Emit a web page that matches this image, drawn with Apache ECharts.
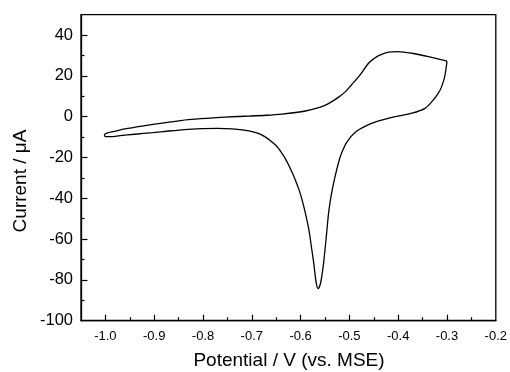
<!DOCTYPE html>
<html>
<head>
<meta charset="utf-8">
<script src="https://cdn.jsdelivr.net/npm/echarts@6/dist/echarts.min.js"></script>
<style>html,body{margin:0;padding:0;background:#fff}#c{width:510px;height:372px}</style>
</head>
<body>
<div id="c"></div>
<script>
var potential = [-0.300,-0.301,-0.303,-0.3055,-0.314,-0.328,-0.345,-0.372,-0.406,-0.440,-0.466,-0.488,-0.505,-0.5153,-0.5205,-0.5255,-0.530,-0.5345,-0.539,-0.543,-0.546,-0.553,-0.559,-0.564,-0.568,-0.573,-0.578,-0.583,-0.590,-0.597,-0.603,-0.610,-0.618,-0.628,-0.638,-0.6513,-0.679,-0.706,-0.740,-0.770,-0.800,-0.830,-0.870,-0.903,-0.940,-0.970,-0.990,-1.000,-1.002,-0.997,-0.982,-0.960,-0.925,-0.880,-0.830,-0.780,-0.730,-0.706,-0.670,-0.638,-0.590,-0.563,-0.549,-0.536,-0.522,-0.508,-0.495,-0.481,-0.4608,-0.450,-0.440,-0.420,-0.400,-0.372,-0.338,-0.300];
var current = [27.2,25.3,22.0,18.8,13.1,8.2,4.1,1.7,0.0,-2.1,-4.5,-7.6,-12.3,-17.4,-21.0,-25.5,-30.0,-35.0,-41.0,-48.0,-55.5,-71.9,-81.5,-84.3,-81.5,-71.9,-63.5,-55.5,-47.5,-40.8,-36.0,-31.5,-27.0,-22.0,-18.0,-13.9,-9.0,-7.0,-6.0,-5.7,-5.8,-6.2,-7.0,-7.8,-8.6,-9.3,-9.8,-9.8,-9.0,-8.0,-7.2,-6.0,-4.6,-3.0,-1.4,-0.6,0.1,0.3,0.7,1.3,2.8,4.4,5.7,7.4,9.6,12.3,15.8,19.6,26.2,28.4,29.9,31.6,31.9,31.1,29.4,27.2];
var xTicks = [-1.0,-0.9,-0.8,-0.7,-0.6,-0.5,-0.4,-0.3,-0.2];
var xMinorTicks = [-0.95,-0.85,-0.75,-0.65,-0.55,-0.45,-0.35,-0.25];
var yTicks = [-100,-80,-60,-40,-20,0,20,40];
var yMinorTicks = [-90,-70,-50,-30,-10,10,30];
var xTitle = 'Potential / V (vs. MSE)';
var yTitle = 'Current / \u03bcA';

var pts = potential.map(function(x,i){return [x,current[i]];});
var font = 'Liberation Sans, Arial, sans-serif';
var XMIN=-1.05, XMAX=-0.2, YMIN=-100, YMAX=50;
function inner(arr, lo, hi){ return arr.filter(function(v){return v > lo + 1e-9 && v < hi - 1e-9;}); }
function tickAxis(base, vals, len){
  return Object.assign({
    type:'value',
    splitLine:{show:false},
    axisLine:{show:false,onZero:false},
    axisTick:{show:true,inside:true,length:len,customValues:vals,lineStyle:{color:'#000',width:1.2}},
    axisLabel:{show:false}
  }, base);
}
var chart = echarts.init(document.getElementById('c'));
chart.setOption({
  animation:false,
  backgroundColor:'#fff',
  grid:{left:81,right:12.5,top:14.7,bottom:51.3,show:true,borderColor:'#000',borderWidth:1.3,backgroundColor:'transparent'},
  xAxis:[{
    type:'value',min:XMIN,max:XMAX,position:'bottom',
    splitLine:{show:false},
    axisLine:{show:true,onZero:false,lineStyle:{color:'#000',width:1.3}},
    axisTick:{show:false},
    axisLabel:{customValues:xTicks,color:'#000',fontSize:13,fontFamily:font,margin:9,formatter:function(v){return v.toFixed(1);}}
  },
  tickAxis({min:XMIN,max:XMAX,position:'bottom'}, inner(xTicks,XMIN,XMAX), 6),
  tickAxis({min:XMIN,max:XMAX,position:'bottom'}, xMinorTicks, 3.5)
  ],
  yAxis:[{
    type:'value',min:YMIN,max:YMAX,position:'left',
    splitLine:{show:false},
    axisLine:{show:true,onZero:false,lineStyle:{color:'#000',width:1.3}},
    axisTick:{show:false},
    axisLabel:{customValues:yTicks,color:'#000',fontSize:16.5,fontFamily:font,margin:8}
  },
  tickAxis({min:YMIN,max:YMAX,position:'left'}, inner(yTicks,YMIN,YMAX), 6.5),
  tickAxis({min:YMIN,max:YMAX,position:'left'}, yMinorTicks, 3.5)
  ],
  series:[{
    type:'line',xAxisIndex:0,yAxisIndex:0,data:pts,showSymbol:false,symbol:'none',smooth:0.3,
    lineStyle:{color:'#000',width:1.3}
  }],
  graphic:[
    {type:'text',position:[289,361],style:{text:xTitle,fill:'#000',font:'19px '+font,textAlign:'center',textVerticalAlign:'middle'}},
    {type:'text',rotation:Math.PI/2,position:[20.7,181],style:{text:yTitle,fill:'#000',font:'19px '+font,textAlign:'center',textVerticalAlign:'middle'}}
  ]
});
</script>
</body>
</html>
